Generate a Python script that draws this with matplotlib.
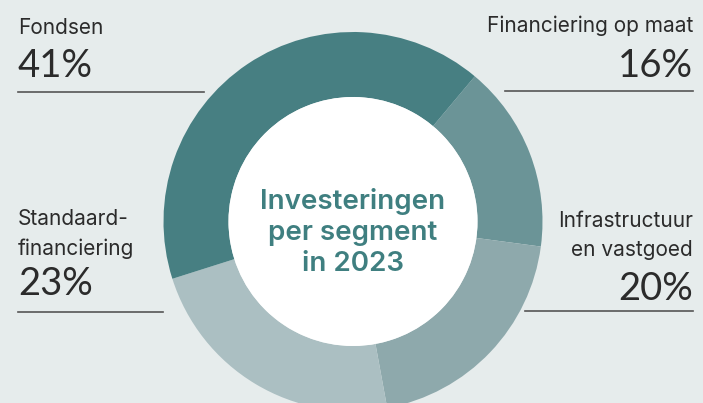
import matplotlib.pyplot as plt
from matplotlib.patches import Circle

# ===== Data =====
segments = ['Financiering op maat', 'Infrastructuur en vastgoed',
            'Standaard-financiering', 'Fondsen']
shares = [16, 20, 23, 41]
colors = ['#6b9497', '#8ea9ac', '#abbfc2', '#477f82']

label_lines = {
    'Fondsen': ['Fondsen'],
    'Financiering op maat': ['Financiering op maat'],
    'Infrastructuur en vastgoed': ['Infrastructuur', 'en vastgoed'],
    'Standaard-financiering': ['Standaard-', 'financiering'],
}
center_title = ['Investeringen', 'per segment', 'in 2023']

BG = '#e6ecec'
TXT = '#2b2b2b'
H = 403

fig = plt.figure(figsize=(7.03, 4.03), dpi=100, facecolor=BG)
ax = fig.add_axes([0, 0, 1, 1])
ax.set_facecolor(BG)

cx, cy = 353, H - 221.5
ax.pie(shares, colors=colors, startangle=50, counterclock=False,
       center=(cx, cy), radius=189.5, frame=True,
       wedgeprops=dict(width=65, edgecolor='none'))
ax.add_patch(Circle((cx, cy), 124.5, facecolor='white', edgecolor='none', zorder=3))
ax.set_xlim(0, 703)
ax.set_ylim(0, H)
ax.set_aspect('equal')
ax.axis('off')

plt.rcParams['font.family'] = ['Inter', 'DejaVu Sans']

# positions in pixels from top: (x, name-baselines, pct-baseline, line-y, line-x0, line-x1, align)
layout = {
    'Fondsen': (18, [34], 77, 92, 18, 204, 'left'),
    'Financiering op maat': (693, [32], 77, 91, 505, 693, 'right'),
    'Infrastructuur en vastgoed': (693, [227, 256], 300, 311, 525, 693, 'right'),
    'Standaard-financiering': (18, [225, 255], 295, 312, 18, 163, 'left'),
}

for name, pct in zip(segments, shares):
    x, bls, pbl, ly, lx0, lx1, ha = layout[name]
    for line, bl in zip(label_lines[name], bls):
        ax.text(x, H - bl, line, ha=ha, va='baseline', fontsize=15, color=TXT)
    ax.text(x, H - pbl, f'{pct}%', ha=ha, va='baseline', fontsize=27.5,
            color=TXT, family=['Lato', 'DejaVu Sans'])
    ax.plot([lx0, lx1], [H - ly, H - ly], color='#555555', lw=1.2, zorder=4)

for line, bl in zip(center_title, [209, 240, 271]):
    ax.text(cx, H - bl, line, ha='center', va='baseline', fontsize=20,
            fontweight='semibold', color='#3f7f80', zorder=5)

plt.savefig('out.png', dpi=100, facecolor=BG)
